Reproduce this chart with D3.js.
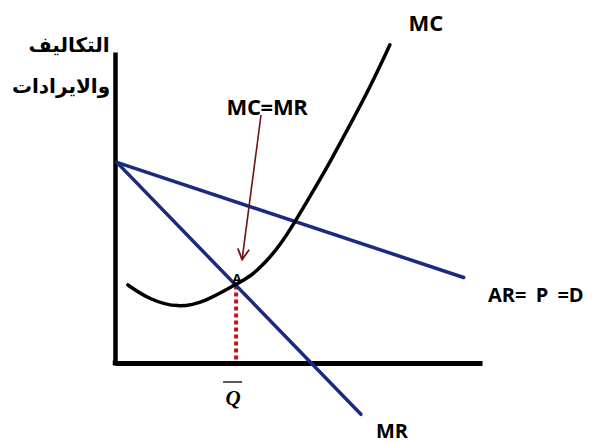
<!DOCTYPE html>
<html>
<head>
<meta charset="utf-8">
<script src="https://cdn.jsdelivr.net/npm/d3@7"></script>
<style>
  html, body { margin: 0; padding: 0; background: #fff; }
  svg { display: block; }
</style>
</head>
<body>
<svg id="chart" width="599" height="445"></svg>
<script>
// Monopoly equilibrium: marginal cost, average revenue (demand) and marginal revenue
const mcQ = [0.35, 0.95, 1.72, 2.45, 3.3, 3.68, 4.09, 4.5, 4.9, 5.37, 5.86, 6.4, 6.95, 7.49];
const mcP = [2.51, 2.03, 1.77, 1.96, 2.54, 2.77, 3.22, 3.79, 4.53, 5.47, 6.46, 7.65, 8.87, 10.23];
const arQ = [0.05, 9.5];
const arP = [6.45, 2.75];
const mrQ = [0.05, 6.7];
const mrP = [6.45, -1.65];
const qStar = 3.3;          // output where MC = MR

const labels = {
  yTitle: ["التكاليف", "والايرادات"],
  mc: "MC",
  ar: "AR= P =D",
  mr: "MR",
  eq: "MC=MR",
  point: "A",
  q: "Q"
};

const svg = d3.select("#chart");

const x = d3.scaleLinear().domain([0, 10]).range([115, 482]);
const y = d3.scaleLinear().domain([0, 10]).range([363, 52]);

const blue = "#1b2a80";
const lineGen = d3.line().x(d => x(d[0])).y(d => y(d[1]));

// Marginal revenue value at a given output
const mrAt = q => mrP[0] + (q - mrQ[0]) * (mrP[1] - mrP[0]) / (mrQ[1] - mrQ[0]);
const pStar = mrAt(qStar);

// Axes (no ticks)
const xAxis = d3.axisBottom(x).tickValues([]).tickSizeOuter(0);
const yAxis = d3.axisLeft(y).tickValues([]).tickSizeOuter(0);
svg.append("g").attr("transform", `translate(0,${y(0)})`).call(xAxis)
  .select(".domain").attr("stroke", "#000").attr("stroke-width", 5);
svg.append("g").attr("transform", `translate(${x(0)},0)`).call(yAxis)
  .select(".domain").attr("stroke", "#000").attr("stroke-width", 4.5);
svg.append("rect").attr("x", x(0) - 2.25).attr("y", y(0) - 2.5)
  .attr("width", 5).attr("height", 5).attr("fill", "#000");

// Dotted drop line from the equilibrium point to the quantity axis
svg.append("line")
  .attr("x1", x(qStar)).attr("x2", x(qStar))
  .attr("y1", y(pStar)).attr("y2", y(0) - 2)
  .attr("stroke", "#c0141a").attr("stroke-width", 4)
  .attr("stroke-dasharray", "4,3");

// AR = P = D
svg.append("path")
  .datum(d3.zip(arQ, arP))
  .attr("d", lineGen)
  .attr("fill", "none").attr("stroke", blue).attr("stroke-width", 3.5)
  .attr("stroke-linecap", "round");

// MR
svg.append("path")
  .datum(d3.zip(mrQ, mrP))
  .attr("d", lineGen)
  .attr("fill", "none").attr("stroke", blue).attr("stroke-width", 3.5)
  .attr("stroke-linecap", "round");

// MC
svg.append("path")
  .datum(d3.zip(mcQ, mcP))
  .attr("d", lineGen.curve(d3.curveBasis))
  .attr("fill", "none").attr("stroke", "#000").attr("stroke-width", 3.5)
  .attr("stroke-linecap", "round");

// Arrow from the MC=MR label down to point A
const arrowColor = "#6e1414";
const ax1 = 261, ay1 = 115, ax2 = x(qStar) + 6, ay2 = y(pStar) - 26;
svg.append("line")
  .attr("x1", ax1).attr("y1", ay1).attr("x2", ax2).attr("y2", ay2)
  .attr("stroke", arrowColor).attr("stroke-width", 1.6);
const ang = Math.atan2(ay2 - ay1, ax2 - ax1);
const head = 12, spread = 0.5;
svg.append("path")
  .attr("d", `M${ax2 - head * Math.cos(ang - spread)},${ay2 - head * Math.sin(ang - spread)}L${ax2},${ay2}L${ax2 - head * Math.cos(ang + spread)},${ay2 - head * Math.sin(ang + spread)}`)
  .attr("fill", "none").attr("stroke", arrowColor).attr("stroke-width", 1.8);

// Text labels
const bold = "'Open Sans', 'Liberation Sans', sans-serif";
svg.append("text").text(labels.mc)
  .attr("x", 426).attr("y", 31).attr("text-anchor", "middle")
  .attr("font-family", bold).attr("font-weight", 700).attr("font-size", 22);
svg.append("text").text(labels.eq)
  .attr("x", 267).attr("y", 115).attr("text-anchor", "middle")
  .attr("font-family", bold).attr("font-weight", 700).attr("font-size", 22)
  .attr("letter-spacing", -0.3);
svg.append("text").text(labels.ar)
  .attr("x", 488).attr("y", 302)
  .attr("font-family", bold).attr("font-weight", 700).attr("font-size", 20)
  .attr("word-spacing", 4);
svg.append("text").text(labels.mr)
  .attr("x", 392).attr("y", 438).attr("text-anchor", "middle")
  .attr("font-family", bold).attr("font-weight", 700).attr("font-size", 20);
svg.append("text").text(labels.point)
  .attr("x", x(qStar) + 1).attr("y", y(pStar) - 3).attr("text-anchor", "middle")
  .attr("font-family", bold).attr("font-weight", 700).attr("font-size", 13);

// Q-bar under the axis
svg.append("text").text(labels.q)
  .attr("x", x(qStar) - 3).attr("y", 405).attr("text-anchor", "middle")
  .attr("font-family", "'Liberation Serif', serif").attr("font-style", "italic")
  .attr("font-weight", 700).attr("font-size", 21);
svg.append("line")
  .attr("x1", x(qStar) - 13).attr("x2", x(qStar) + 6)
  .attr("y1", 382).attr("y2", 382)
  .attr("stroke", "#222").attr("stroke-width", 1.5);

// Vertical axis title (Arabic)
svg.append("text").text(labels.yTitle[0])
  .attr("x", 69).attr("y", 52).attr("text-anchor", "middle")
  .attr("direction", "rtl")
  .attr("font-family", "'DejaVu Sans', sans-serif").attr("font-weight", 700).attr("font-size", 20);
svg.append("text").text(labels.yTitle[1])
  .attr("x", 61).attr("y", 93).attr("text-anchor", "middle")
  .attr("direction", "rtl")
  .attr("font-family", "'DejaVu Sans', sans-serif").attr("font-weight", 700).attr("font-size", 20);
</script>
</body>
</html>
